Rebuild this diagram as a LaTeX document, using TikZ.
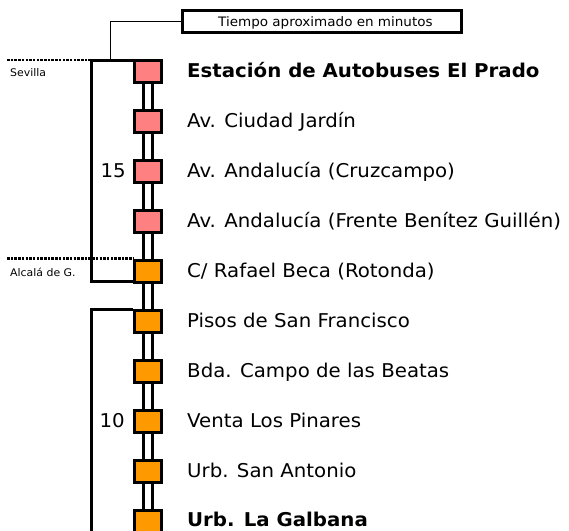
\documentclass[tikz,border=0pt]{standalone}
\usepackage{fontspec}
\setmainfont{DejaVu Sans}[FakeStretch=1.04]
\definecolor{stpink}{HTML}{FF8080}
\definecolor{storange}{HTML}{FF9900}
\begin{document}
\begin{tikzpicture}[x=1pt,y=-1pt,
  stbox/.style={draw=black,line width=3pt,minimum width=27pt,minimum height=22pt,inner sep=0pt},
  stname/.style={anchor=base west,inner sep=0pt,font=\fontsize{19}{21}\selectfont},
  small/.style={anchor=base west,inner sep=0pt,font=\fontsize{10.5}{12}\selectfont},
  thick3/.style={line width=3pt},
  dots/.style={line width=2.5pt,dash pattern=on 2.5pt off 1.2pt}]
\useasboundingbox (0,0) rectangle (569,530);
% rails
\coordinate (rt) at (148,71);
\coordinate (rb) at (148,521);
\draw[thick3] ([xshift=-4.5pt]rt) -- ([xshift=-4.5pt]rb);
\draw[thick3] ([xshift=4.5pt]rt) -- ([xshift=4.5pt]rb);
% stations
\foreach \i/\c in {0/stpink,1/stpink,2/stpink,3/stpink,4/storange,5/storange,6/storange,7/storange,8/storange,9/storange}{
  \node[stbox,fill=\c] (s\i) at (148,71+50*\i) {};
}
\node[stname] (n0) at (187,77.5) {\textbf{Estación de Autobuses El Prado}};
\node[stname] (n1) at (187,127.5) {Av. Ciudad Jardín};
\node[stname] (n2) at (187,177.5) {Av. Andalucía (Cruzcampo)};
\node[stname] (n3) at (187,227.5) {Av. Andalucía (Frente Benítez Guillén)};
\node[stname] (n4) at (187,277.5) {C/ Rafael Beca (Rotonda)};
\node[stname] (n5) at (187,327.5) {Pisos de San Francisco};
\node[stname] (n6) at (187,377.5) {Bda. Campo de las Beatas};
\node[stname] (n7) at (187,427.5) {Venta Los Pinares};
\node[stname] (n8) at (187,477.5) {Urb. San Antonio};
\node[stname] (n9) at (187,526.5) {\textbf{Urb. La Galbana}};
% minutes
\node[stname,anchor=base east] (m15) at (126,177.5) {15};
\node[stname,anchor=base east] (m10) at (125,427.5) {10};
% brackets
\coordinate (b1t) at (91,60);
\coordinate (b1b) at (91,281.5);
\draw[thick3] (b1t -| s0.west) -- (b1t) -- (b1b) -- (b1b -| s4.west);
\coordinate (b2t) at (91,309.5);
\coordinate (b2b) at (91,540);
\draw[thick3] (b2t -| s5.west) -- (b2t) -- (b2b);
% city limits
\coordinate (d1) at (7,60);
\coordinate (d2) at (7,258.5);
\draw[dots] (d1) -- (b1t);
\draw[dots] (d2) -- (d2 -| s4.west);
\node[small] (sev) at (10,76) {Sevilla};
\node[small] (alc) at (10,276) {Alcalá de G.};
% legend box
\node[draw=black,line width=3pt,minimum width=279pt,minimum height=22pt,inner sep=0pt] (leg) at (322,21.5) {};
\node[anchor=base west,inner sep=0pt,font=\fontsize{13}{15}\selectfont] (legt) at (218,26.5) {Tiempo aproximado en minutos};
\coordinate (lk) at (110,60);
\draw[line width=1pt] (lk) |- (leg.west);
\end{tikzpicture}
\end{document}
